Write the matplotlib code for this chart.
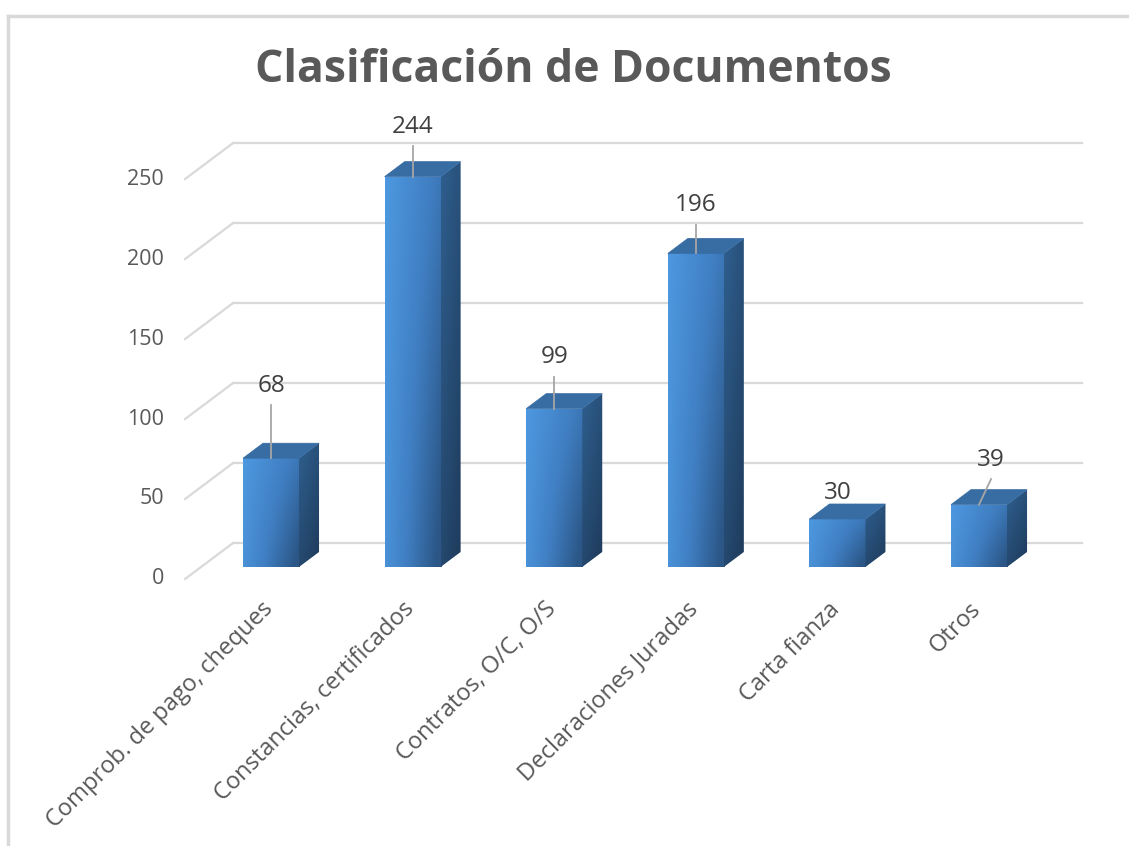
import numpy as np
import matplotlib.pyplot as plt
from matplotlib.patches import Polygon, Rectangle
from matplotlib.colors import LinearSegmentedColormap

# data
categories = ['Comprob. de pago, cheques', 'Constancias, certificados',
              'Contratos, O/C, O/S', 'Declaraciones Juradas',
              'Carta fianza', 'Otros']
values = [68, 244, 99, 196, 30, 39]
y_ticks = [0, 50, 100, 150, 200, 250]

# where Excel put the data labels (offset above the bar, sideways shift)
label_dy = [45, 31, 32, 30, 16, 28]
label_dx = [0, 0, 0, 0, 0, 0.085]
leader = [True, True, True, True, False, True]

plt.rcParams['font.family'] = ['Open Sans', 'DejaVu Sans']
txt_color = '#595959'
grid_color = '#D9D9D9'

fig = plt.figure(figsize=(11.29, 8.46), dpi=100)
ax = fig.add_axes([0, 0, 1, 1])
ax.set_xlim(-1.914, 6.059)
ax.set_ylim(-174.4, 354.4)
ax.axis('off')

# pixel sizes of one data unit
px_x = 141.6
px_y = 1.6

bar_w = 56 / px_x
dep_x, dep_y = 20 / px_x, 15 / px_y       # bar depth
wall_x, wall_y = 32 / px_x, 24 / px_y     # back wall behind bar front
front_x, front_y = -16 / px_x, -12 / px_y  # front edge of the wall
left_x = -0.268
right_x = 5.73

# chart border
fig.add_artist(plt.Line2D([8 / 1129, 8 / 1129], [0, 1 - 16 / 846], color=grid_color, lw=2.5))
fig.add_artist(plt.Line2D([8 / 1129, 1], [1 - 16 / 846, 1 - 16 / 846], color=grid_color, lw=2.5))

# gridlines on back wall and side wall
for t in y_ticks:
    ax.plot([left_x, right_x], [t + wall_y, t + wall_y], color=grid_color, lw=1.6, zorder=1)
    ax.plot([left_x - (wall_x - front_x), left_x], [t + front_y, t + wall_y],
            color=grid_color, lw=1.6, zorder=1)
    ax.text(left_x - (wall_x - front_x) - 0.15, t + front_y, str(t), ha='right', va='center',
            fontsize=15.5, color=txt_color)

front_cmap = LinearSegmentedColormap.from_list('front', ['#4D98E0', '#3F7DC0', '#2B5686'])
side_cmap = LinearSegmentedColormap.from_list('side', ['#2F5F8F', '#1E3A5A'])

gx, gy = np.meshgrid(np.linspace(0, 1, 60), np.linspace(0, 1, 60))
front_grad = 0.7 * gx + 0.45 * gy * gx + 0.15 * gy
side_grad = 0.4 * gx + 0.6 * gy

for i, v in enumerate(values):
    x0 = i - bar_w / 2
    x1 = i + bar_w / 2
    # front face with gradient
    rect = Rectangle((x0, 0), bar_w, v, facecolor='none', edgecolor='none')
    ax.add_patch(rect)
    im = ax.imshow(front_grad, extent=(x0, x1, 0, v), origin='upper', cmap=front_cmap,
                   aspect='auto', zorder=3, vmin=0, vmax=1.2)
    im.set_clip_path(rect)
    # side face
    side = Polygon([(x1, 0), (x1 + dep_x, dep_y), (x1 + dep_x, v + dep_y), (x1, v)], closed=True,
                   facecolor='none', edgecolor='none')
    ax.add_patch(side)
    im2 = ax.imshow(side_grad, extent=(x1, x1 + dep_x, 0, v + dep_y), origin='upper',
                    cmap=side_cmap, aspect='auto', zorder=3, vmin=0, vmax=1)
    im2.set_clip_path(side)
    # top face
    top = Polygon([(x0, v), (x0 + dep_x, v + dep_y), (x1 + dep_x, v + dep_y), (x1, v)], closed=True,
                  facecolor='#386DA3', edgecolor='#386DA3', lw=0.5, zorder=3)
    ax.add_patch(top)

    # data label
    lx = i + label_dx[i]
    ly = v + label_dy[i]
    ax.text(lx, ly, str(v), ha='center', va='center', fontsize=17.5, color='#404040', zorder=5)
    if leader[i]:
        ax.plot([lx, i], [ly - 12, v], color='#A6A6A6', lw=1.3, zorder=4)

    # category label
    ax.text(i - 0.07, -19, categories[i], rotation=45, rotation_mode='anchor',
            ha='right', va='top', fontsize=17, color=txt_color)

fig.text(0.508, 0.917, 'Clasificación de Documentos', ha='center', va='center',
         fontsize=32, fontweight='bold', color=txt_color)

fig.savefig('out.png', dpi=100)
